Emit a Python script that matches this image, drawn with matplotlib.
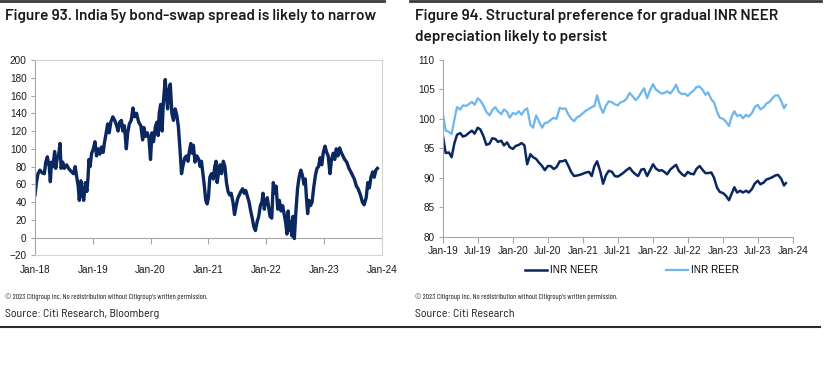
import matplotlib
matplotlib.use("Agg")
import matplotlib.pyplot as plt
import matplotlib.dates as mdates
import pandas as pd
from matplotlib.lines import Line2D

# Figure 93: India 5y bond-swap spread (bp)
spread_dates = [
    "2018-01-01", "2018-01-10", "2018-01-20", "2018-02-01", "2018-02-15", "2018-03-01", "2018-03-10",
    "2018-03-20", "2018-04-01", "2018-04-08", "2018-04-15", "2018-04-25", "2018-05-05", "2018-05-12",
    "2018-05-20", "2018-06-01", "2018-06-08", "2018-06-15", "2018-06-25", "2018-07-05", "2018-07-20",
    "2018-08-01", "2018-08-15", "2018-09-01", "2018-09-12", "2018-09-20", "2018-10-01", "2018-10-08",
    "2018-10-18", "2018-10-28", "2018-11-05", "2018-11-15", "2018-11-25", "2018-12-01", "2018-12-08",
    "2018-12-15", "2018-12-25",
    "2019-01-05", "2019-01-15", "2019-01-25", "2019-02-05", "2019-02-15", "2019-02-25", "2019-03-08",
    "2019-03-15", "2019-03-25", "2019-04-05", "2019-04-15", "2019-04-25", "2019-05-08", "2019-05-20",
    "2019-06-01", "2019-06-10", "2019-06-20", "2019-07-01", "2019-07-10", "2019-07-20", "2019-08-01",
    "2019-08-10", "2019-08-20", "2019-09-01", "2019-09-12", "2019-09-22", "2019-10-05", "2019-10-18",
    "2019-11-01", "2019-11-12", "2019-11-20", "2019-12-01", "2019-12-12", "2019-12-22",
    "2020-01-01", "2020-01-10", "2020-01-20", "2020-02-01", "2020-02-10", "2020-02-18", "2020-02-25",
    "2020-03-05", "2020-03-14", "2020-03-22", "2020-04-03", "2020-04-10", "2020-04-18", "2020-04-25",
    "2020-05-05", "2020-05-15", "2020-05-25", "2020-06-05", "2020-06-15", "2020-06-25", "2020-07-05",
    "2020-07-15", "2020-07-25", "2020-08-05", "2020-08-15", "2020-08-25", "2020-09-03", "2020-09-12",
    "2020-09-20", "2020-09-28", "2020-10-08", "2020-10-20", "2020-11-01", "2020-11-10", "2020-11-18",
    "2020-11-26", "2020-12-05", "2020-12-15", "2020-12-24",
    "2021-01-01", "2021-01-10", "2021-01-20", "2021-02-01", "2021-02-10", "2021-02-18", "2021-02-25",
    "2021-03-05", "2021-03-15", "2021-03-25", "2021-04-05", "2021-04-15", "2021-04-25", "2021-05-05",
    "2021-05-15", "2021-05-25", "2021-06-05", "2021-06-15", "2021-06-25", "2021-07-05", "2021-07-15",
    "2021-07-25", "2021-08-05", "2021-08-15", "2021-08-25", "2021-09-05", "2021-09-15", "2021-09-25",
    "2021-10-05", "2021-10-15", "2021-10-25", "2021-11-05", "2021-11-15", "2021-11-25", "2021-12-05",
    "2021-12-12", "2021-12-20", "2021-12-28",
    "2022-01-08", "2022-01-15", "2022-01-25", "2022-02-05", "2022-02-15", "2022-02-25", "2022-03-05",
    "2022-03-15", "2022-03-25", "2022-04-05", "2022-04-15", "2022-04-25", "2022-05-05", "2022-05-12",
    "2022-05-20", "2022-05-28", "2022-06-05", "2022-06-12", "2022-06-20", "2022-06-28", "2022-07-08",
    "2022-07-18", "2022-07-28", "2022-08-08", "2022-08-18", "2022-08-28", "2022-09-05", "2022-09-12",
    "2022-09-20", "2022-09-28", "2022-10-08", "2022-10-18", "2022-10-28", "2022-11-08", "2022-11-18",
    "2022-11-28", "2022-12-08", "2022-12-18", "2022-12-28",
    "2023-01-08", "2023-01-18", "2023-01-28", "2023-02-08", "2023-02-18", "2023-03-01", "2023-03-10",
    "2023-03-20", "2023-03-30", "2023-04-10", "2023-04-20", "2023-05-01", "2023-05-12", "2023-05-25",
    "2023-06-08", "2023-06-20", "2023-07-01", "2023-07-12", "2023-07-25", "2023-08-05", "2023-08-20",
    "2023-09-01", "2023-09-12", "2023-09-25", "2023-10-05", "2023-10-15", "2023-10-25", "2023-11-05",
    "2023-11-15", "2023-11-25", "2023-12-05",
]
spread_bp = [
    48, 62, 72, 76, 73, 72, 85, 91, 80, 63, 85, 80, 97, 78, 88, 95, 106, 78, 85, 78, 82,
    78, 75, 72, 80, 70, 58, 42, 64, 48, 42, 62, 52, 65, 88, 80, 95,
    100, 108, 92, 100, 94, 102, 96, 106, 116, 128, 118, 130, 136, 132, 126, 120, 130, 132, 120, 126, 100,
    118, 128, 132, 146, 136, 140, 130, 126, 110, 124, 114, 118, 112,
    88, 118, 108, 125, 130, 115, 140, 150, 120, 152, 178, 160, 145, 165, 173, 140, 132, 145, 138, 125, 100,
    72, 82, 90, 92, 86, 98, 106, 95, 104, 85, 92, 88, 80, 86, 74, 60, 42, 38,
    45, 68, 72, 66, 80, 86, 62, 72, 82, 72, 86, 80, 62, 52, 48, 50, 40, 26, 36, 44, 48,
    52, 55, 50, 53, 46, 40, 30, 22, 12, 8, 18, 24, 36, 40, 50, 32, 40,
    45, 36, 24, 22, 62, 50, 58, 32, 42, 30, 36, 26, 16, 4, 30, 8, 18, 2, 24, -1, 30,
    55, 68, 76, 70, 60, 66, 46, 27, 42, 36, 40, 56, 70, 78, 80, 90, 82, 96,
    103, 96, 92, 72, 88, 95, 88, 100, 92, 101, 96, 92, 88, 85, 78, 74, 70, 66, 58, 55, 48,
    40, 37, 45, 62, 56, 68, 74, 68, 76, 78,
]
left_tick_labels = ["Jan-18", "Jan-19", "Jan-20", "Jan-21", "Jan-22", "Jan-23", "Jan-24"]
left_tick_dates = ["2018-01-01", "2019-01-01", "2020-01-01", "2021-01-01", "2022-01-01", "2023-01-01", "2024-01-01"]

# Figure 94: INR NEER / REER
fx_dates = [
    "2019-01-01", "2019-01-15", "2019-02-01", "2019-02-15", "2019-03-01", "2019-03-15", "2019-04-01",
    "2019-04-15", "2019-05-01", "2019-05-15", "2019-06-01", "2019-06-15", "2019-07-01", "2019-07-15",
    "2019-08-01", "2019-08-15", "2019-09-01", "2019-09-15", "2019-10-01", "2019-10-15", "2019-11-01",
    "2019-11-15", "2019-12-01", "2019-12-15",
    "2020-01-01", "2020-01-15", "2020-02-01", "2020-02-15", "2020-03-01", "2020-03-15", "2020-04-01",
    "2020-04-15", "2020-05-01", "2020-05-15", "2020-06-01", "2020-06-15", "2020-07-01", "2020-07-15",
    "2020-08-01", "2020-08-15", "2020-09-01", "2020-09-15", "2020-10-01", "2020-10-15", "2020-11-01",
    "2020-11-15", "2020-12-01", "2020-12-15",
    "2021-01-01", "2021-01-15", "2021-02-01", "2021-02-15", "2021-03-01", "2021-03-15", "2021-04-01",
    "2021-04-15", "2021-05-01", "2021-05-15", "2021-06-01", "2021-06-15", "2021-07-01", "2021-07-15",
    "2021-08-01", "2021-08-15", "2021-09-01", "2021-09-15", "2021-10-01", "2021-10-15", "2021-11-01",
    "2021-11-15", "2021-12-01", "2021-12-15",
    "2022-01-01", "2022-01-15", "2022-02-01", "2022-02-15", "2022-03-01", "2022-03-15", "2022-04-01",
    "2022-04-15", "2022-05-01", "2022-05-15", "2022-06-01", "2022-06-15", "2022-07-01", "2022-07-15",
    "2022-08-01", "2022-08-15", "2022-09-01", "2022-09-15", "2022-10-01", "2022-10-15", "2022-11-01",
    "2022-11-15", "2022-12-01", "2022-12-15",
    "2023-01-01", "2023-01-15", "2023-02-01", "2023-02-15", "2023-03-01", "2023-03-15", "2023-04-01",
    "2023-04-15", "2023-05-01", "2023-05-15", "2023-06-01", "2023-06-15", "2023-07-01", "2023-07-15",
    "2023-08-01", "2023-08-15", "2023-09-01", "2023-09-15", "2023-10-01", "2023-10-15", "2023-11-01",
    "2023-11-15", "2023-11-25",
]
inr_neer = [
    97.0, 94.2, 94.3, 93.5, 95.8, 97.3, 97.6, 97.0, 97.2, 97.6, 98.0, 97.5, 98.5, 98.2,
    97.0, 95.6, 95.8, 96.7, 96.6, 96.1, 96.3, 95.5, 96.0, 95.2,
    94.9, 95.4, 95.6, 95.9, 95.5, 92.3, 94.0, 93.5, 93.2, 92.6, 92.0, 91.3, 92.0, 92.0,
    91.5, 91.8, 92.8, 92.8, 93.0, 92.1, 90.9, 90.3, 90.4, 90.5,
    90.7, 90.9, 91.0, 90.3, 92.0, 92.8, 91.0, 89.0, 90.5, 91.2, 91.0, 90.3, 90.2, 90.5,
    90.9, 91.3, 91.7, 91.1, 90.6, 90.3, 91.4, 91.5, 90.3, 91.2,
    92.3, 91.6, 91.2, 91.3, 91.0, 90.6, 91.4, 91.8, 92.2, 91.2, 90.6, 90.3, 91.0, 90.7,
    90.6, 91.5, 92.0, 91.4, 90.8, 90.8, 90.9, 90.0, 88.3, 87.6,
    87.4, 87.0, 86.2, 87.3, 88.4, 87.5, 87.8, 87.5, 87.8, 87.5, 88.1, 89.0, 89.5, 88.9,
    89.2, 89.7, 89.9, 90.1, 90.4, 90.5, 89.8, 88.7, 89.1,
]
inr_reer = [
    100.8, 98.0, 97.8, 97.4, 99.8, 102.0, 101.6, 102.3, 102.2, 102.5, 102.9, 102.4, 103.5, 103.1,
    102.2, 101.2, 100.6, 101.5, 102.0, 101.3, 100.8, 101.6, 101.2, 100.2,
    101.0, 100.8, 101.3, 100.7, 101.5, 101.8, 99.0, 98.5, 100.6, 99.6, 98.5, 99.3, 99.4, 99.8,
    100.2, 100.0, 101.9, 101.7, 101.8, 100.8, 100.0, 99.6, 100.3, 100.5,
    101.0, 101.4, 101.7, 102.0, 102.2, 104.0, 102.0, 101.0, 102.3, 103.0, 102.8, 102.5, 102.3, 102.8,
    103.0, 103.4, 104.4, 103.9, 103.2, 103.6, 104.5, 105.2, 103.5, 104.8,
    105.9, 105.0, 104.6, 104.3, 104.4, 104.7, 104.3, 104.9, 105.8, 104.6, 104.2, 104.3, 103.9, 104.4,
    104.8, 105.4, 105.5, 105.0, 104.1, 104.5, 103.3, 102.8, 101.2, 100.2,
    100.0, 99.6, 98.8, 100.4, 101.3, 100.5, 100.7, 100.1, 100.7, 100.4, 101.0, 102.0, 102.4, 101.6,
    102.0, 102.6, 102.9, 103.5, 104.0, 104.0, 103.0, 101.8, 102.4,
]
right_tick_labels = ["Jan-19", "Jul-19", "Jan-20", "Jul-20", "Jan-21", "Jul-21", "Jan-22",
                     "Jul-22", "Jan-23", "Jul-23", "Jan-24"]
right_tick_dates = ["2019-01-01", "2019-07-01", "2020-01-01", "2020-07-01", "2021-01-01", "2021-07-01",
                    "2022-01-01", "2022-07-01", "2023-01-01", "2023-07-01", "2024-01-01"]

navy = "#0b2760"
light_blue = "#6db6ee"
grey = "#a6a6a6"
tick_font = "Liberation Sans"
title_font = "Barlow"

W, H = 831, 368
fig = plt.figure(figsize=(W / 100, H / 100), dpi=100)


def fx(px):
    return px / W


def fy(py):
    return 1 - py / H


# header rules and titles
fig.add_artist(Line2D([fx(0), fx(384)], [fy(1.2), fy(1.2)], color="#3a3a3a", lw=2))
fig.add_artist(Line2D([fx(410), fx(821)], [fy(1.2), fy(1.2)], color="#3a3a3a", lw=2))
title_kw = dict(fontsize=11.0, fontweight="semibold", family=title_font, va="center", color="#1a1a1a")
fig.text(fx(5), fy(16), "Figure 93. India 5y bond-swap spread is likely to narrow", **title_kw)
fig.text(fx(415), fy(16), "Figure 94. Structural preference for gradual INR NEER", **title_kw)
fig.text(fx(415), fy(37), "depreciation likely to persist", **title_kw)

# left chart
ax1 = fig.add_axes([fx(35), fy(255.4), fx(381.7 - 35), (255.4 - 60) / H])
x1 = mdates.date2num(pd.to_datetime(spread_dates))
ax1.plot(x1, spread_bp, color=navy, lw=2.4, solid_joinstyle="round")
lt = mdates.date2num(pd.to_datetime(left_tick_dates))
ax1.set_xlim(lt[0], lt[-1])
ax1.set_ylim(-20, 200)
ax1.set_yticks(range(-20, 201, 20))
ax1.set_xticks(lt)
ax1.set_xticklabels(left_tick_labels)
ax1.tick_params(axis="x", length=0, pad=7)
ax1.tick_params(axis="y", length=3, color=grey, pad=3)
for s in ax1.spines.values():
    s.set_color("#d4d4d4")
ax1.spines["left"].set_color(grey)
zero_axis = ax1.secondary_xaxis(20 / 220)
zero_axis.set_xticks(lt)
zero_axis.tick_params(axis="x", length=4, color=grey, labelbottom=False)
zero_axis.spines["bottom"].set_color(grey)

# right chart
ax2 = fig.add_axes([fx(443), fy(236.7), fx(793 - 443), (236.7 - 60) / H])
x2 = mdates.date2num(pd.to_datetime(fx_dates))
ax2.plot(x2, inr_neer, color=navy, lw=1.8, label="INR NEER")
ax2.plot(x2, inr_reer, color=light_blue, lw=1.6, label="INR REER")
rt = mdates.date2num(pd.to_datetime(right_tick_dates))
ax2.set_xlim(rt[0], rt[-1])
ax2.set_ylim(80, 110)
ax2.set_yticks(range(80, 111, 5))
ax2.set_xticks(rt)
ax2.set_xticklabels(right_tick_labels)
ax2.tick_params(axis="x", length=4, color=grey, pad=3)
ax2.tick_params(axis="y", length=3, color=grey, pad=3)
ax2.spines["top"].set_visible(False)
ax2.spines["right"].set_visible(False)
ax2.spines["left"].set_color(grey)
ax2.spines["bottom"].set_color(grey)

for ax in (ax1, ax2):
    for lab in ax.get_xticklabels() + ax.get_yticklabels():
        lab.set_family(tick_font)
        lab.set_fontsize(7.2)
        lab.set_color("#1a1a1a")

handles, labels = ax2.get_legend_handles_labels()
fig.legend(handles, labels, loc="center", bbox_to_anchor=(fx(632), fy(270)), ncol=2, frameon=False,
           handlelength=2.2, handletextpad=0.3, columnspacing=6.8,
           prop={"family": tick_font, "size": 7.2})

# footnotes
note = "\u00a9 2023 Citigroup Inc. No redistribution without Citigroup\u2019s written permission."
note_kw = dict(family="Barlow Condensed", fontsize=5.5, va="center", color="#1a1a1a")
src_kw = dict(family="Barlow Semi Condensed", fontsize=8.6, va="center", color="#1a1a1a")
fig.text(fx(5), fy(297), note, **note_kw)
fig.text(fx(5), fy(314), "Source: Citi Research, Bloomberg", **src_kw)
fig.text(fx(415), fy(297), note, **note_kw)
fig.text(fx(415), fy(314), "Source: Citi Research", **src_kw)
fig.add_artist(Line2D([fx(0), fx(820)], [fy(327), fy(327)], color="#2a2a2a", lw=1.5))

fig.savefig("out.png", dpi=100)
